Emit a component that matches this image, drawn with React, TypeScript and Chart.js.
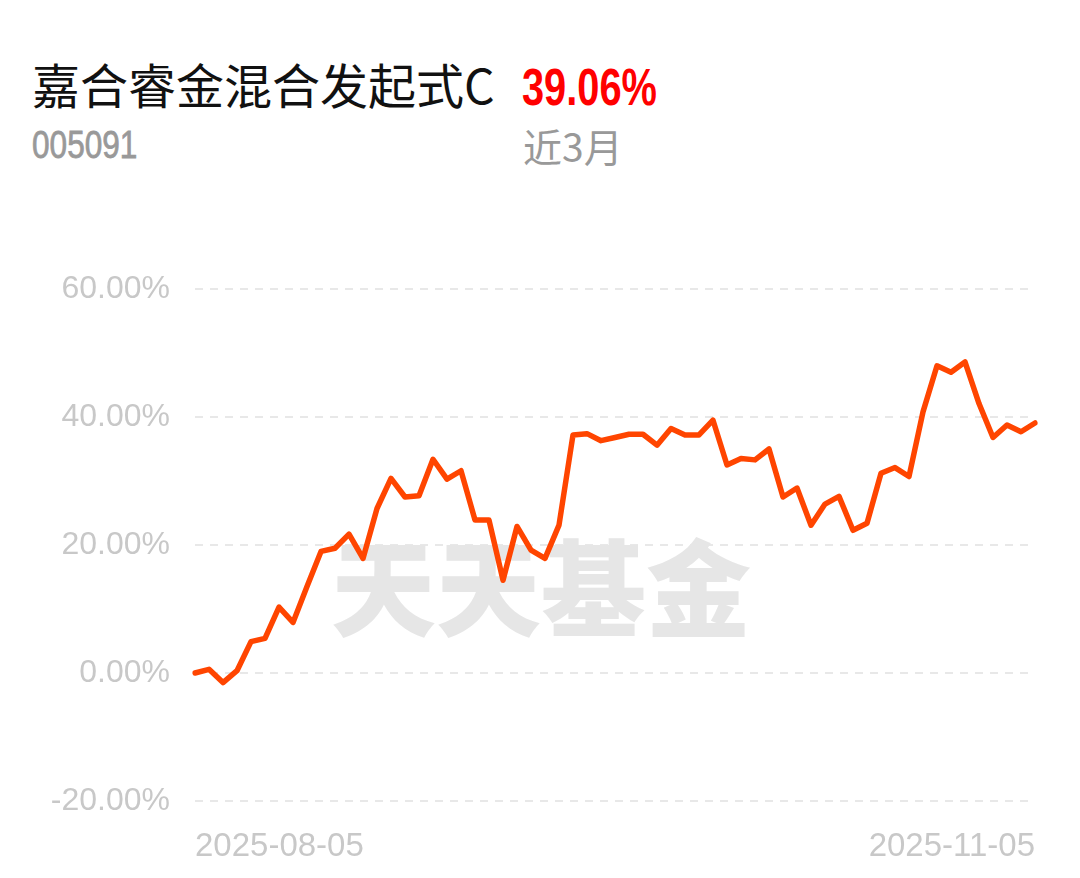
import React, { useEffect, useRef } from "react";
import { Chart, registerables } from "chart.js";

Chart.register(...registerables);

const fundName = "嘉合睿金混合发起式C";
const fundCode = "005091";
const periodReturn = "39.06%";
const periodLabel = "近3月";
const watermark = "天天基金";

const dates = [
  "2025-08-05", "2025-08-06", "2025-08-07", "2025-08-08",
  "2025-08-11", "2025-08-12", "2025-08-13", "2025-08-14", "2025-08-15",
  "2025-08-18", "2025-08-19", "2025-08-20", "2025-08-21", "2025-08-22",
  "2025-08-25", "2025-08-26", "2025-08-27", "2025-08-28", "2025-08-29",
  "2025-09-01", "2025-09-02", "2025-09-03", "2025-09-04", "2025-09-05",
  "2025-09-08", "2025-09-09", "2025-09-10", "2025-09-11", "2025-09-12",
  "2025-09-15", "2025-09-16", "2025-09-17", "2025-09-18", "2025-09-19",
  "2025-09-22", "2025-09-23", "2025-09-24", "2025-09-25", "2025-09-26",
  "2025-09-29", "2025-09-30",
  "2025-10-09", "2025-10-10",
  "2025-10-13", "2025-10-14", "2025-10-15", "2025-10-16", "2025-10-17",
  "2025-10-20", "2025-10-21", "2025-10-22", "2025-10-23", "2025-10-24",
  "2025-10-27", "2025-10-28", "2025-10-29", "2025-10-30", "2025-10-31",
  "2025-11-03", "2025-11-04", "2025-11-05",
];

const returns = [
  0.0, 0.58, -1.5, 0.36, 4.9, 5.4, 10.3, 7.9, 13.5, 19.0,
  19.5, 21.7, 17.9, 25.7, 30.4, 27.5, 27.7, 33.4, 30.3, 31.6,
  23.9, 23.9, 14.5, 22.9, 19.2, 17.9, 23.1, 37.2, 37.4, 36.3,
  36.8, 37.3, 37.3, 35.6, 38.2, 37.2, 37.2, 39.5, 32.5, 33.5,
  33.3, 35.0, 27.5, 28.9, 23.1, 26.4, 27.6, 22.3, 23.4, 31.2,
  32.1, 30.7, 40.8, 48.0, 47.0, 48.6, 42.1, 36.8, 38.75, 37.7,
  39.06,
];

const yMin = -20;
const yMax = 60;
const yStep = 20;

export default function App() {
  const canvasRef = useRef<HTMLCanvasElement | null>(null);

  useEffect(() => {
    document.body.style.margin = "0";
    const canvas = canvasRef.current;
    if (!canvas) return;

    const watermarkPlugin = {
      id: "watermark",
      beforeDatasetsDraw(chart: any) {
        const ctx = chart.ctx;
        ctx.save();
        ctx.font = '900 105px "Noto Sans CJK SC"';
        ctx.fillStyle = "#e6e6e6";
        ctx.textAlign = "center";
        ctx.textBaseline = "middle";
        ctx.fillText(watermark, 541, 588);
        ctx.restore();
      },
    };

    const chart = new Chart(canvas, {
      type: "line",
      data: {
        labels: dates,
        datasets: [
          {
            data: returns,
            borderColor: "#ff4500",
            borderWidth: 5.5,
            pointRadius: 0,
            tension: 0,
            borderJoinStyle: "round",
            borderCapStyle: "round",
            fill: false,
          },
        ],
      },
      options: {
        animation: false,
        responsive: false,
        maintainAspectRatio: false,
        events: [],
        layout: { padding: { left: 0, right: 45, top: 289, bottom: 0 } },
        plugins: {
          legend: { display: false },
          tooltip: { enabled: false },
        },
        scales: {
          x: {
            type: "category",
            offset: false,
            grid: { display: false, drawTicks: false },
            border: { display: false },
            afterFit: (s: any) => {
              s.height = 77;
            },
            ticks: {
              autoSkip: false,
              maxRotation: 0,
              minRotation: 0,
              align: "inner",
              padding: 26,
              color: "#c8c8c8",
              font: { family: "'Liberation Sans', Arial, sans-serif", size: 33 },
              callback: (_v: any, i: number) =>
                i === 0 || i === dates.length - 1 ? dates[i] : null,
            },
          },
          y: {
            min: yMin,
            max: yMax,
            afterFit: (s: any) => {
              s.width = 195;
            },
            grid: {
              drawTicks: false,
              color: "#e8e8e8",
              lineWidth: 2,
            },
            border: { display: false, dash: [8, 7] },
            ticks: {
              stepSize: yStep,
              padding: 25,
              color: "#c8c8c8",
              font: { family: "'Liberation Sans', Arial, sans-serif", size: 32 },
              callback: (v: any) => Number(v).toFixed(2) + "%",
            },
          },
        },
      },
      plugins: [watermarkPlugin],
    });

    return () => chart.destroy();
  }, []);

  return (
    <div style={{ position: "relative", width: 1080, height: 878, background: "#fff", overflow: "hidden" }}>
      <div
        style={{
          position: "absolute",
          left: 32,
          top: 59,
          fontFamily: '"Noto Sans CJK SC", sans-serif',
          fontSize: 48,
          lineHeight: "48px",
          color: "#111",
          whiteSpace: "nowrap",
        }}
      >
        {fundName}
      </div>
      <div
        style={{
          position: "absolute",
          left: 522,
          top: 62,
          fontFamily: '"Liberation Sans", Arial, sans-serif',
          fontWeight: 700,
          fontSize: 51,
          lineHeight: "51px",
          color: "#ff0000",
          whiteSpace: "nowrap",
          transform: "scaleX(0.78)",
          transformOrigin: "0 0",
        }}
      >
        {periodReturn}
      </div>
      <div
        style={{
          position: "absolute",
          left: 32,
          top: 125,
          fontFamily: '"Liberation Sans", Arial, sans-serif',
          fontSize: 39,
          lineHeight: "39px",
          color: "#999",
          whiteSpace: "nowrap",
          transform: "scaleX(0.81)",
          transformOrigin: "0 0",
          WebkitTextStroke: "0.8px #999",
        }}
      >
        {fundCode}
      </div>
      <div
        style={{
          position: "absolute",
          left: 523,
          top: 126,
          fontFamily: '"Noto Sans CJK SC", sans-serif',
          fontSize: 39,
          lineHeight: "39px",
          color: "#999",
          whiteSpace: "nowrap",
        }}
      >
        {periodLabel}
      </div>
      <canvas
        ref={canvasRef}
        width={1080}
        height={878}
        style={{ position: "absolute", left: 0, top: 0, width: 1080, height: 878 }}
      />
    </div>
  );
}
